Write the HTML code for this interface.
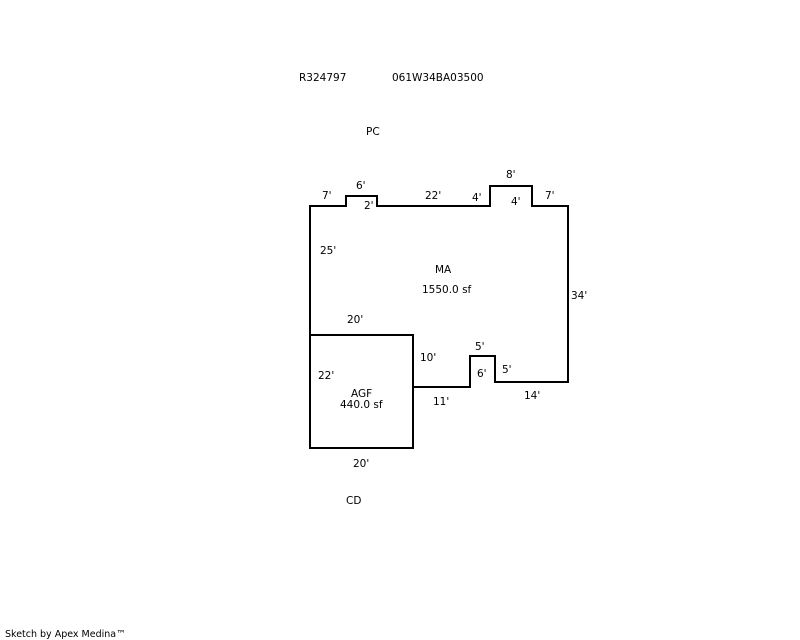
<!DOCTYPE html>
<html><head><style>
html,body{margin:0;padding:0;background:#fff;}
svg{display:block;}
text{font-family:"DejaVu Sans","Liberation Sans",sans-serif;font-size:10.5px;fill:#000;}
</style></head><body>
<svg width="800" height="640" viewBox="0 0 800 640" xmlns="http://www.w3.org/2000/svg">
<g fill="none" stroke="#000" stroke-width="2">
<polyline points="310,335 310,206 346,206 346,196 377,196 377,206 490,206 490,186 532,186 532,206 568,206 568,382 495,382 495,356 470,356 470,387 413,387"/>
<rect x="310" y="335" width="103" height="113"/>
</g>
<text x="299" y="81">R324797</text>
<text x="392" y="81">061W34BA03500</text>
<text x="366" y="135">PC</text>
<text x="322" y="199">7'</text>
<text x="356" y="189">6'</text>
<text x="364" y="209">2'</text>
<text x="425" y="199">22'</text>
<text x="472" y="201">4'</text>
<text x="506" y="178">8'</text>
<text x="511" y="205">4'</text>
<text x="545" y="199">7'</text>
<text x="320" y="254">25'</text>
<text x="435" y="273">MA</text>
<text x="422" y="293">1550.0 sf</text>
<text x="571" y="299">34'</text>
<text x="347" y="323">20'</text>
<text x="420" y="361">10'</text>
<text x="475" y="350">5'</text>
<text x="477" y="377">6'</text>
<text x="502" y="373">5'</text>
<text x="318" y="379">22'</text>
<text x="351" y="397">AGF</text>
<text x="340" y="408">440.0 sf</text>
<text x="433" y="405">11'</text>
<text x="524" y="399">14'</text>
<text x="353" y="467">20'</text>
<text x="346" y="504">CD</text>
<text x="5" y="637" style="font-size:9.5px">Sketch by Apex Medina™</text>
</svg>
</body></html>
